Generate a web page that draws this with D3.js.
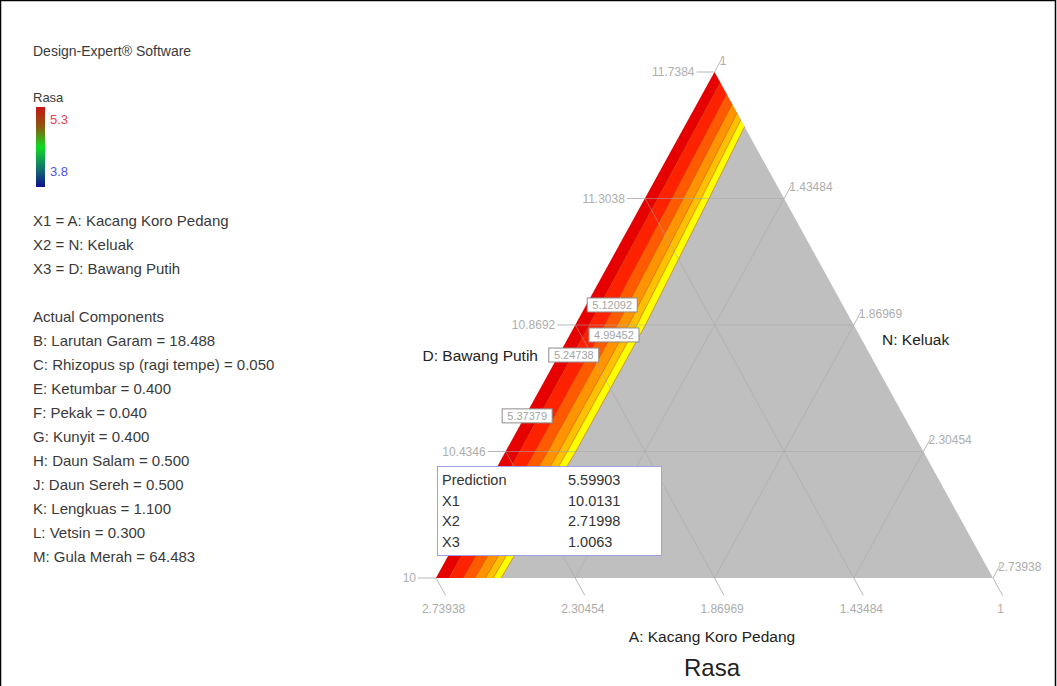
<!DOCTYPE html>
<html>
<head>
<meta charset="utf-8">
<script src="https://cdn.jsdelivr.net/npm/d3@7"></script>
<style>
body { margin: 0; background: #fff; }
svg { display: block; }
text { font-family: "Liberation Sans", Arial, sans-serif; }
</style>
</head>
<body>
<svg id="chart"></svg>
<script>
// A on the left edge (horizontal lines), N on the bottom edge, D on the right edge
var aTicks = [10, 10.4346, 10.8692, 11.3038, 11.7384];
var nTicks = [2.73938, 2.30454, 1.86969, 1.43484, 1];
var dTicks = [1, 1.43484, 1.86969, 2.30454, 2.73938];

// contour boundaries, D value read at each A tick level
var contourLevels = [5.37379, 5.24738, 5.12092, 4.99452, 4.86811];
var contourD = [
    [1.0407, 1.0438, 1.0438, 1.0400, 1.0357],
    [1.0854, 1.0920, 1.0920, 1.0841, 1.0748],
    [1.1220, 1.1314, 1.1314, 1.1201, 1.1070],
    [1.1545, 1.1664, 1.1664, 1.1521, 1.1355],
    [1.1789, 1.1927, 1.1927, 1.1762, 1.1570]
];
var edgeD = [1.2033, 1.2190, 1.2190, 1.2002, 1.1783];
var bandColors = ["#e60000", "#ff2200", "#ff5a00", "#ff9400", "#ffc000", "#ffff00"];

var labelLevels = [5.12092, 4.99452, 5.24738, 5.37379];
var labelA = [10.938, 10.835, 10.766, 10.557];
var labelD = [1.081, 1.138, 1.047, 1.006];

var factorNames = ["X1 = A: Kacang Koro Pedang", "X2 = N: Keluak", "X3 = D: Bawang Putih"];
var actualNames = ["B: Larutan Garam", "C: Rhizopus sp (ragi tempe)", "E: Ketumbar", "F: Pekak",
    "G: Kunyit", "H: Daun Salam", "J: Daun Sereh", "K: Lengkuas", "L: Vetsin", "M: Gula Merah"];
var actualValues = [18.488, 0.050, 0.400, 0.040, 0.400, 0.500, 0.500, 1.100, 0.300, 64.483];

var predNames = ["Prediction", "X1", "X2", "X3"];
var predValues = ["5.59903", "10.0131", "2.71998", "1.0063"];

var width = 1057, height = 686;
var aMin = 10, aMax = 11.7384, dMin = 1, dMax = 2.73938, total = 13.73938;

var svg = d3.select("#chart")
    .attr("width", width)
    .attr("height", height);

// frame
svg.append("path")
    .attr("d", "M0.5," + height + "V0.5H" + (width - 1.5) + "V" + height)
    .attr("fill", "none")
    .attr("stroke", "#000")
    .attr("stroke-width", 1.5);

var y = d3.scaleLinear().domain([aMin, aMax]).range([578, 72]);
var xs = d3.scaleLinear().domain([0, 1]).range([436, 993]);

function pt(a, d) {
    var ap = (a - aMin) / (aMax - aMin);
    var dp = (d - dMin) / (dMax - dMin);
    return [xs(ap * 0.5 + dp), y(a)];
}

var tri = [pt(aMin, dMin), pt(aMax, dMin), pt(aMin, dMax)];

svg.append("clipPath").attr("id", "tri")
    .append("polygon").attr("points", tri.map(function(p) { return p.join(","); }).join(" "));

svg.append("polygon")
    .attr("points", tri.map(function(p) { return p.join(","); }).join(" "))
    .attr("fill", "#bfbfbf");

var plot = svg.append("g").attr("clip-path", "url(#tri)");

// colored bands
var leftD = aTicks.map(function() { return 0.9; });
var bounds = [leftD].concat(contourD).concat([edgeD]);
var line = d3.line();

for (let i = 0; i < bounds.length - 1; i++) {
    var pts = aTicks.map(function(a, j) { return pt(a, bounds[i][j]); });
    var back = aTicks.map(function(a, j) { return pt(a, bounds[i + 1][j]); }).reverse();
    plot.append("path")
        .attr("d", line(pts.concat(back)) + "Z")
        .attr("fill", bandColors[i]);
}

contourD.concat([edgeD]).forEach(function(c) {
    plot.append("path")
        .attr("d", line(aTicks.map(function(a, j) { return pt(a, c[j]); })))
        .attr("fill", "none")
        .attr("stroke", "#b83000")
        .attr("stroke-opacity", 0.4)
        .attr("stroke-width", 1);
});

// grid
var grid = svg.append("g")
    .attr("stroke", "#a8a8a8")
    .attr("stroke-opacity", 0.55)
    .attr("stroke-width", 1);

aTicks.slice(1, 4).forEach(function(a) {
    grid.append("path").attr("d", line([pt(a, dMin), pt(a, total - a - 1)]));
});
nTicks.slice(1, 4).forEach(function(n) {
    grid.append("path").attr("d", line([pt(aMin, total - aMin - n), pt(total - 1 - n, dMin)]));
});
dTicks.slice(1, 4).forEach(function(d) {
    grid.append("path").attr("d", line([pt(aMin, d), pt(total - 1 - d, d)]));
});

// ticks and tick labels
var tickColor = "#b8b8b8", labelColor = "#adadad";
var ticks = svg.append("g").attr("stroke", tickColor).attr("stroke-width", 1);
var tickText = svg.append("g")
    .attr("fill", labelColor)
    .attr("font-size", "12px");

aTicks.forEach(function(a) {
    var p = pt(a, dMin);
    ticks.append("path").attr("d", line([p, [p[0] - 18, p[1]]]));
    tickText.append("text")
        .attr("x", p[0] - 20)
        .attr("y", p[1] + 4)
        .attr("text-anchor", "end")
        .text(a);
});

nTicks.forEach(function(n) {
    var p = pt(aMin, total - aMin - n);
    var q = pt(aMin - 0.06, total - (aMin - 0.06) - n);
    ticks.append("path").attr("d", line([p, q]));
    tickText.append("text")
        .attr("x", q[0] - 2)
        .attr("y", q[1] + 18)
        .attr("text-anchor", "middle")
        .text(n);
});

dTicks.forEach(function(d) {
    var p = pt(total - 1 - d, d);
    var q = pt(total - 1 - d + 0.045, d);
    ticks.append("path").attr("d", line([p, q]));
    tickText.append("text")
        .attr("x", p[0] + 5)
        .attr("y", p[1] - 7)
        .text(d);
});

// contour labels
labelLevels.forEach(function(v, i) {
    var p = pt(labelA[i], labelD[i]);
    svg.append("rect")
        .attr("x", p[0] - 25)
        .attr("y", p[1] - 7)
        .attr("width", 50)
        .attr("height", 14)
        .attr("fill", "#fff")
        .attr("stroke", "#8c8c8c");
    svg.append("text")
        .attr("x", p[0])
        .attr("y", p[1] + 4)
        .attr("text-anchor", "middle")
        .attr("font-size", "11px")
        .attr("fill", "#a4a4a4")
        .text(v);
});

// axis titles
svg.append("text").attr("x", 538).attr("y", 361).attr("text-anchor", "end")
    .attr("font-size", "15.5px").attr("fill", "#222").text("D: Bawang Putih");
svg.append("text").attr("x", 882).attr("y", 345)
    .attr("font-size", "15.5px").attr("fill", "#222").text("N: Keluak");
svg.append("text").attr("x", 712).attr("y", 642).attr("text-anchor", "middle")
    .attr("font-size", "15.5px").attr("fill", "#222").text("A: Kacang Koro Pedang");
svg.append("text").attr("x", 712).attr("y", 676).attr("text-anchor", "middle")
    .attr("font-size", "24px").attr("fill", "#222").text("Rasa");

// prediction flag
var flag = svg.append("g");
flag.append("rect")
    .attr("x", 437.5).attr("y", 466.5)
    .attr("width", 224).attr("height", 89)
    .attr("fill", "#fff")
    .attr("stroke", "#a0a0e8");
predNames.forEach(function(nm, i) {
    flag.append("text").attr("x", 442).attr("y", 485 + i * 20.5)
        .attr("font-size", "14.5px").attr("fill", "#333").text(nm);
    flag.append("text").attr("x", 568).attr("y", 485 + i * 20.5)
        .attr("font-size", "14.5px").attr("fill", "#333").text(predValues[i]);
});

// left legend
var legend = svg.append("g").attr("fill", "#3a3a3a");
legend.append("text").attr("x", 33).attr("y", 56).attr("font-size", "14px").text("Design-Expert\u00AE Software");
legend.append("text").attr("x", 33).attr("y", 102).attr("font-size", "13px").text("Rasa");

var grad = svg.append("defs").append("linearGradient")
    .attr("id", "bar").attr("x1", 0).attr("y1", 0).attr("x2", 0).attr("y2", 1);
[["0", "#c81414"], ["0.25", "#8a5a10"], ["0.5", "#10dc20"], ["0.75", "#107a6a"], ["1", "#10108c"]]
    .forEach(function(s) { grad.append("stop").attr("offset", s[0]).attr("stop-color", s[1]); });

svg.append("rect").attr("x", 36).attr("y", 107).attr("width", 9).attr("height", 80).attr("fill", "url(#bar)");
svg.append("text").attr("x", 50).attr("y", 124).attr("font-size", "13px").attr("fill", "#e84050").text("5.3");
svg.append("text").attr("x", 50).attr("y", 176).attr("font-size", "13px").attr("fill", "#5050e8").text("3.8");

factorNames.forEach(function(t, i) {
    legend.append("text").attr("x", 33).attr("y", 226 + i * 24).attr("font-size", "15px").text(t);
});
legend.append("text").attr("x", 33).attr("y", 322).attr("font-size", "15px").text("Actual Components");
var fmt = d3.format(".3f");
actualNames.forEach(function(t, i) {
    legend.append("text").attr("x", 33).attr("y", 346 + i * 24).attr("font-size", "15px")
        .text(t + " = " + fmt(actualValues[i]));
});
</script>
</body>
</html>
